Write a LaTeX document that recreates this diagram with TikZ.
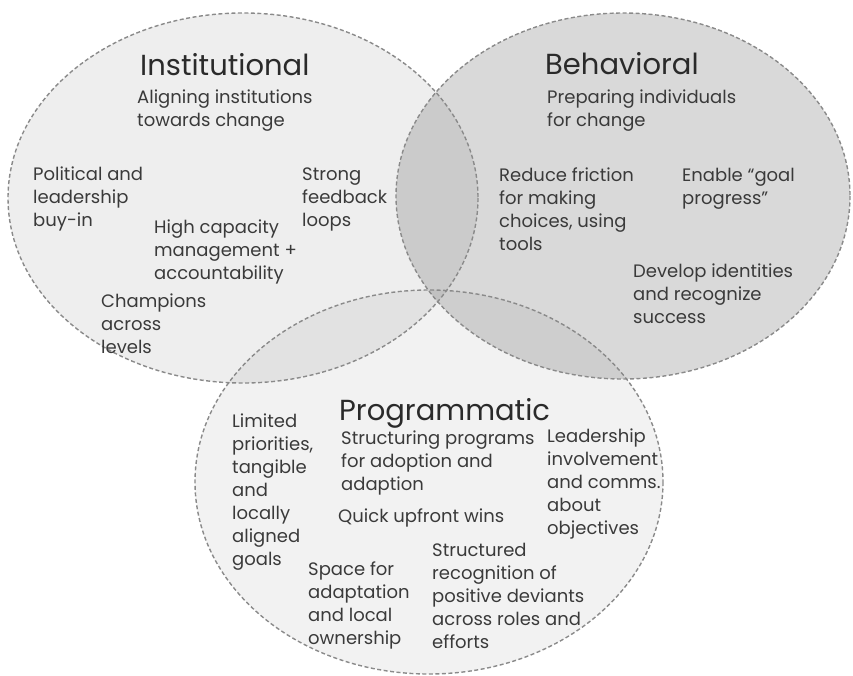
\documentclass[tikz,border=0pt]{standalone}
\usepackage{fontspec}
\setmainfont{Poppins}
\definecolor{edgegray}{HTML}{8A8A8A}
\definecolor{txt}{HTML}{3A3A3A}
\definecolor{ttl}{HTML}{2A2A2A}
\tikzset{
  ellfill/.style={fill=black, draw=none},
  elledge/.style={draw=edgegray, line width=1.4pt, dash pattern=on 4pt off 2.5pt},
  body/.style={inner sep=0pt, anchor=base west, align=left, text=txt, font=\fontsize{18}{23}\selectfont},
  ttlnode/.style={inner sep=0pt, anchor=base west, text=ttl, font=\fontsize{29}{34}\selectfont},
}
\begin{document}
\begin{tikzpicture}[x=1pt,y=-1pt]
\useasboundingbox (0,0) rectangle (853,675);
% fills
\fill[ellfill, fill opacity=0.065] (243,198) ellipse [x radius=235, y radius=185];
\fill[ellfill, fill opacity=0.15] (623,196) ellipse [x radius=227, y radius=183];
\fill[ellfill, fill opacity=0.05] (429,482) ellipse [x radius=234, y radius=192];
% edges
\draw[elledge] (243,198) ellipse [x radius=235, y radius=185];
\draw[elledge] (623,196) ellipse [x radius=227, y radius=183];
\draw[elledge] (429,482) ellipse [x radius=234, y radius=192];
% Institutional (anchors at the baseline of the last line)
\node[ttlnode] (tinst) at (140,75) {Institutional};
\node[body] (sinst) at (137,126) {Aligning institutions\\towards change};
\node[body] (i1) at (33,226) {Political and\\leadership\\buy-in};
\node[body] (i2) at (302,226) {Strong\\feedback\\loops};
\node[body] (i3) at (154,279) {High capacity\\management +\\accountability};
\node[body] (i4) at (101,353) {Champions\\across\\levels};
% Behavioral
\node[ttlnode] (tbeh) at (545,74) {Behavioral};
\node[body] (sbeh) at (547,126) {Preparing individuals\\for change};
\node[body] (b1) at (499,250) {Reduce friction\\for making\\choices, using\\tools};
\node[body] (b2) at (682,204) {Enable “goal\\progress”};
\node[body] (b3) at (633,323) {Develop identities\\and recognize\\success};
% Programmatic
\node[ttlnode] (tprog) at (339,420) {Programmatic};
\node[body] (sprog) at (341,490) {Structuring programs\\for adoption and\\adaption};
\node[body] (p1) at (232,565) {Limited\\priorities,\\tangible\\and\\locally\\aligned\\goals};
\node[body] (p2) at (547,534) {Leadership\\involvement\\and comms.\\about\\objectives};
\node[body] (p3) at (338,522) {Quick upfront wins};
\node[body] (p4) at (308,644) {Space for\\adaptation\\and local\\ownership};
\node[body] (p5) at (432,648) {Structured\\recognition of\\positive deviants\\across roles and\\efforts};
\end{tikzpicture}
\end{document}
